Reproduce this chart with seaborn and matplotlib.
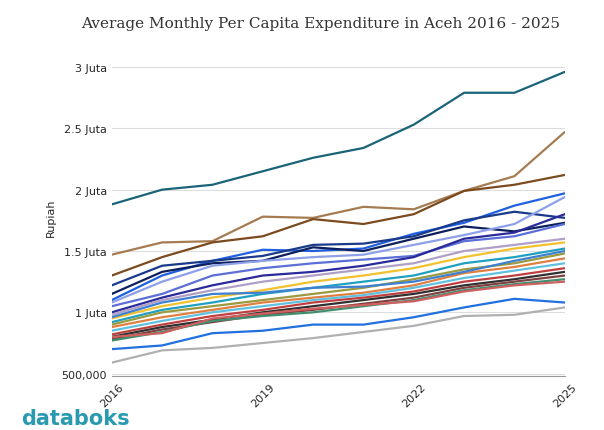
import pandas as pd
import seaborn as sns
from matplotlib import pyplot as plt

years = list(range(2016, 2026))

# values in millions of rupiah
series = {
    'A': [1.88, 2.00, 2.04, 2.15, 2.26, 2.34, 2.53, 2.79, 2.79, 2.96],
    'B': [1.47, 1.57, 1.58, 1.78, 1.77, 1.86, 1.84, 1.99, 2.11, 2.47],
    'C': [1.30, 1.45, 1.57, 1.62, 1.76, 1.72, 1.80, 1.99, 2.04, 2.12],
    'D': [1.10, 1.30, 1.42, 1.51, 1.50, 1.52, 1.64, 1.73, 1.87, 1.97],
    'E': [1.22, 1.38, 1.42, 1.46, 1.55, 1.56, 1.62, 1.75, 1.82, 1.77],
    'F': [1.15, 1.33, 1.40, 1.42, 1.53, 1.50, 1.60, 1.70, 1.66, 1.73],
    'G': [1.08, 1.25, 1.38, 1.42, 1.45, 1.47, 1.55, 1.63, 1.72, 1.94],
    'H': [1.05, 1.15, 1.30, 1.36, 1.40, 1.43, 1.46, 1.58, 1.62, 1.72],
    'I': [1.00, 1.12, 1.22, 1.30, 1.33, 1.38, 1.45, 1.60, 1.65, 1.80],
    'J': [0.98, 1.10, 1.18, 1.25, 1.30, 1.35, 1.40, 1.50, 1.55, 1.60],
    'K': [0.95, 1.05, 1.12, 1.18, 1.25, 1.30, 1.36, 1.45, 1.52, 1.57],
    'L': [0.92, 1.02, 1.08, 1.15, 1.20, 1.25, 1.30, 1.40, 1.45, 1.52],
    'M': [0.90, 1.00, 1.05, 1.10, 1.15, 1.20, 1.27, 1.35, 1.40, 1.48],
    'N': [0.88, 0.96, 1.02, 1.08, 1.12, 1.16, 1.22, 1.32, 1.37, 1.44],
    'O': [0.85, 0.93, 1.00, 1.05, 1.10, 1.14, 1.20, 1.28, 1.34, 1.40],
    'P': [0.82, 0.90, 0.97, 1.02, 1.08, 1.12, 1.17, 1.25, 1.30, 1.36],
    'Q': [0.80, 0.88, 0.94, 1.00, 1.05, 1.10, 1.15, 1.22, 1.27, 1.33],
    'R': [0.78, 0.86, 0.92, 0.98, 1.02, 1.07, 1.12, 1.20, 1.25, 1.30],
    'S': [0.77, 0.84, 0.93, 0.97, 1.00, 1.05, 1.10, 1.18, 1.23, 1.27],
    'T': [0.80, 0.83, 0.95, 0.99, 1.03, 1.06, 1.09, 1.17, 1.22, 1.25],
    'U': [0.96, 1.08, 1.15, 1.16, 1.20, 1.21, 1.25, 1.33, 1.42, 1.50],
    'V': [0.70, 0.73, 0.83, 0.85, 0.90, 0.90, 0.96, 1.04, 1.11, 1.08],
    'W': [0.59, 0.69, 0.71, 0.75, 0.79, 0.84, 0.89, 0.97, 0.98, 1.04],
}
colors = ['#1b6478', '#a57c52', '#7b4a1e', '#1f5fe0', '#1a3a8a', '#0d1f5c',
          '#8ea0e8', '#5b6fd6', '#2a2a9a', '#b0a0c8', '#f2c12e', '#20a0c0',
          '#9a9a40', '#e08040', '#60c0e0', '#c04040', '#303030', '#804040',
          '#409070', '#d06060', '#4080d0', '#2070e0', '#b0b0b0']

rows = []
for name, vals in series.items():
    for y, v in zip(years, vals):
        rows.append({'year': y, 'value': v * 1e6, 'region': name})
df = pd.DataFrame(rows)

sns.set_style('white')
fig, ax = plt.subplots(figsize=(6.04, 4.31), dpi=100)
sns.lineplot(data=df, x='year', y='value', hue='region', palette=colors,
             linewidth=1.6, legend=False, ax=ax)
ax.set_xlim(2016, 2025)
ax.set_ylim(480000, 3080000)
ax.set_yticks([500000, 1e6, 1.5e6, 2e6, 2.5e6, 3e6])
ax.set_yticklabels(['500,000', '1 Juta', '1.5 Juta', '2 Juta', '2.5 Juta', '3 Juta'],
                   fontsize=8)
ax.set_xticks([2016, 2019, 2022, 2025])
ax.set_xticklabels(['2016', '2019', '2022', '2025'], rotation=45, fontsize=8)
ax.yaxis.grid(True, color='#dddddd', linewidth=0.8)
for s in ['top', 'right', 'left']:
    ax.spines[s].set_visible(False)
ax.spines['bottom'].set_color('#999999')
ax.tick_params(axis='both', length=0)
ax.set_xlabel('')
ax.set_ylabel('Rupiah', fontsize=8)
fig.text(0.53, 0.935, 'Average Monthly Per Capita Expenditure in Aceh 2016 - 2025',
         fontsize=11, family='DejaVu Serif', color='#333333', ha='center')
fig.text(0.035, 0.015, 'databoks', fontsize=15, color='#2a9ab0', weight='bold')
plt.subplots_adjust(left=0.185, right=0.935, top=0.865, bottom=0.125)
plt.savefig('out.png')
